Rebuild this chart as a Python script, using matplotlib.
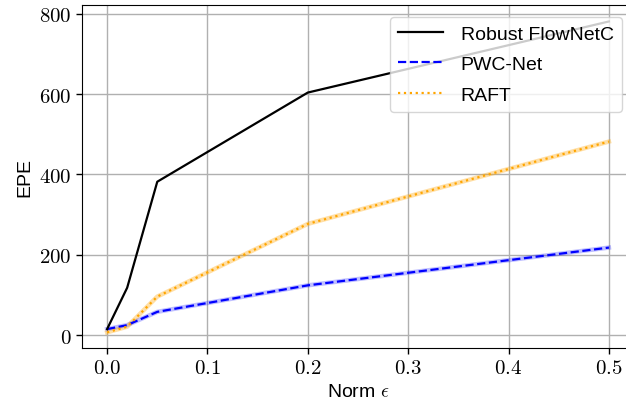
import matplotlib
matplotlib.use("Agg")
import matplotlib.pyplot as plt
from matplotlib.ticker import FuncFormatter

plt.rcParams['font.family'] = ['Liberation Sans', 'DejaVu Sans']
plt.rcParams['mathtext.fontset'] = 'cm'

eps = [0.0, 0.02, 0.05, 0.2, 0.5]
robust_flownetc = [15, 118, 382, 604, 781]
pwc_net = [15, 25, 58, 124, 218]
raft = [7, 21, 96, 277, 482]

W, H = 626, 406
fig = plt.figure(figsize=(W / 100, H / 100), dpi=100)
ax = fig.add_axes([82 / W, 1 - 349 / H, 552 / W, 343 / H])

ax.plot(eps, robust_flownetc, color='black', lw=1.6, ls='-', label='Robust FlowNetC', zorder=4)
ax.plot(eps, pwc_net, color='blue', lw=3.2, alpha=0.25, zorder=2)
ax.plot(eps, pwc_net, color='blue', lw=1.6, ls='--', label='PWC-Net', zorder=3)
ax.plot(eps, raft, color='orange', lw=3.2, alpha=0.35, zorder=2)
ax.plot(eps, raft, color='orange', lw=1.6, ls=':', label='RAFT', zorder=3)

ax.set_xlim(-0.025, 0.525)
ax.set_ylim(-32, 822)
ax.set_xticks([0.0, 0.1, 0.2, 0.3, 0.4, 0.5])
ax.set_yticks([0, 200, 400, 600, 800])
ax.xaxis.set_major_formatter(FuncFormatter(lambda v, p: r'$%.1f$' % v))
ax.yaxis.set_major_formatter(FuncFormatter(lambda v, p: r'$%d$' % v))
ax.tick_params(labelsize=15, length=4, width=1)
ax.grid(True, color='#b0b0b0', lw=1)
ax.set_axisbelow(True)
ax.set_xlabel(r'Norm $\epsilon$', fontsize=14, labelpad=4)
ax.set_ylabel('EPE', fontsize=14, labelpad=4)

leg = ax.legend(loc='upper right', fontsize=14, framealpha=0.8, labelspacing=0.65,
                handlelength=2.3, borderpad=0.45, borderaxespad=0.6, handletextpad=0.9)

fig.savefig('out.png', dpi=100)
